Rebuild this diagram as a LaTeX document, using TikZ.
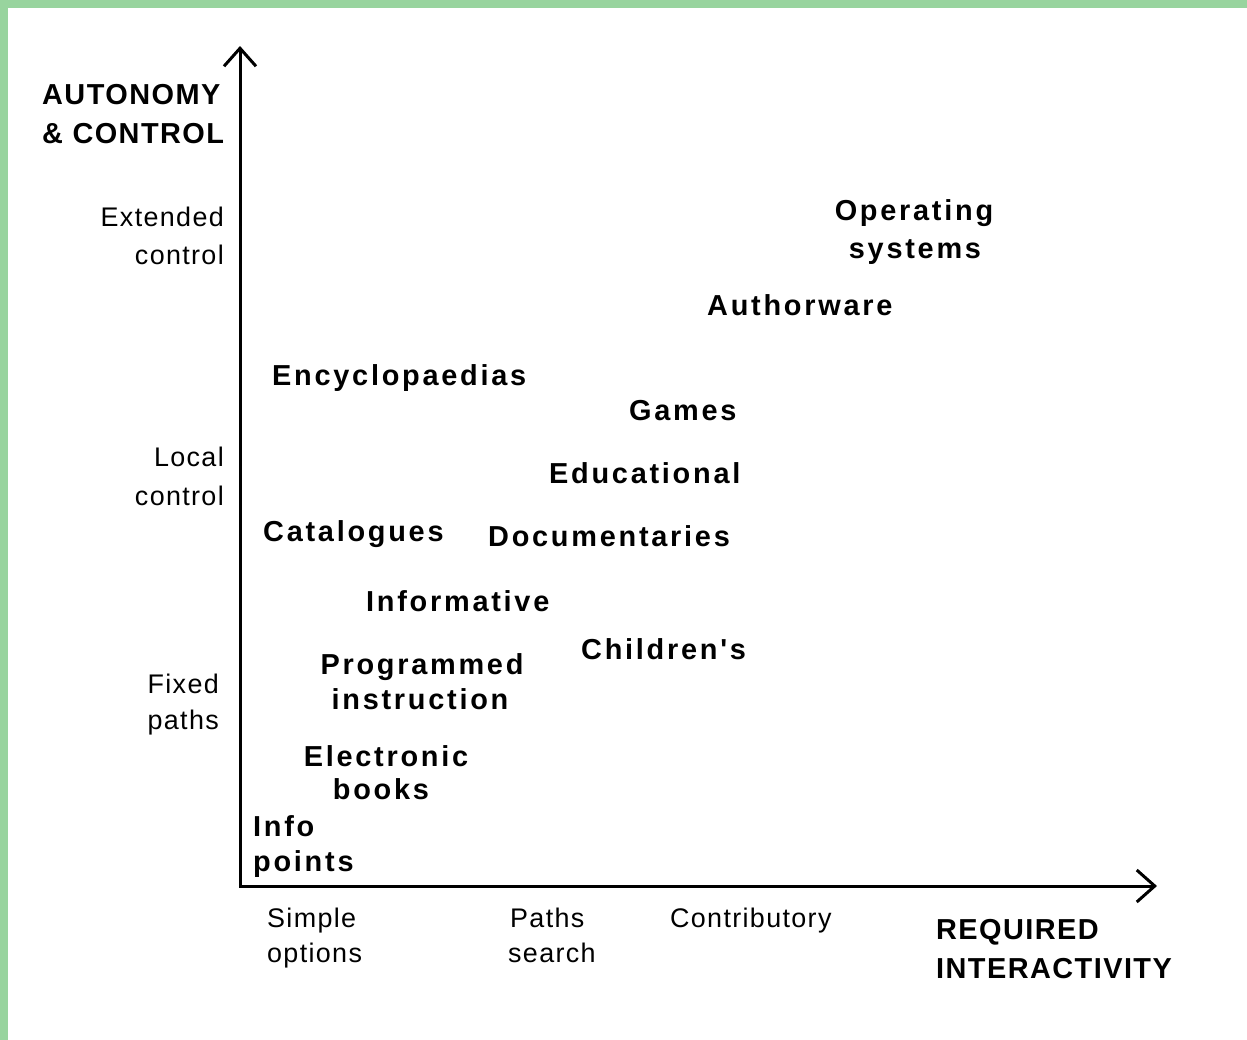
\documentclass[tikz,border=0pt]{standalone}
\usepackage{fontspec}
\usetikzlibrary{arrows.meta}
\newfontfamily\itemfont{Liberation Sans}[LetterSpace=9.5]
\newfontfamily\titlefont{Liberation Sans}[LetterSpace=5]
\newfontfamily\levelfont{Liberation Sans}[LetterSpace=5]
\definecolor{frame}{RGB}{152,212,158}
\tikzset{
  item/.style={inner sep=0pt, anchor=base west, font=\itemfont\bfseries\fontsize{29}{34}\selectfont},
  itemc/.style={item, anchor=base},
  title/.style={inner sep=0pt, anchor=base west, font=\titlefont\bfseries\fontsize{29}{34}\selectfont},
  level/.style={inner sep=0pt, anchor=base east, font=\levelfont\fontsize{27}{32}\selectfont},
  levelx/.style={level, anchor=base west},
  axis/.style={line width=3bp, {Straight Barb[length=18bp,width=32bp,line width=3bp]}-{Straight Barb[length=18bp,width=32bp,line width=3bp]}}
}
\begin{document}
\begin{tikzpicture}[x=1bp,y=-1bp]
\fill[frame] (0,0) rectangle (1247,1040);
\fill[white] (8,8) rectangle (1247,1040);
\useasboundingbox (0,0) rectangle (1247,1040);
% axes
\coordinate (ytop) at (240,46);
\coordinate (O) at (240,886);
\coordinate (xend) at (1157,886);
\draw[axis] (ytop) -- (O) -- (xend);
% axis titles
\node[title] (t1) at (42,104) {AUTONOMY};
\node[title] (t2) at (42,143) {\& CONTROL};
\node[title] (t3) at (936,939) {REQUIRED};
\node[title] (t4) at (936,978) {INTERACTIVITY};
% vertical levels
\node[level] (l1a) at (224,226) {Extended};
\node[level] (l1b) at (224,264) {control};
\node[level] (l2a) at (224,466) {Local};
\node[level] (l2b) at (224,505) {control};
\node[level] (l3a) at (219,693) {Fixed};
\node[level] (l3b) at (219,729) {paths};
% horizontal levels
\node[levelx] (h1a) at (267,927) {Simple};
\node[levelx] (h1b) at (267,962) {options};
\node[levelx] (h2a) at (510,927) {Paths};
\node[levelx] (h2b) at (508,962) {search};
\node[levelx] (h3a) at (670,927) {Contributory};
% items
\node[itemc] (os1) at (914,220) {Operating};
\node[itemc] (os2) at (915,258) {systems};
\node[item] (auth) at (707,315) {Authorware};
\node[item] (ency) at (272,385) {Encyclopaedias};
\node[item] (games) at (629,420) {Games};
\node[item] (edu) at (549,483) {Educational};
\node[item] (cat) at (263,541) {Catalogues};
\node[item] (doc) at (488,546) {Documentaries};
\node[item] (info) at (366,611) {Informative};
\node[item] (child) at (581,659) {Children's};
\node[itemc] (pi1) at (422,674) {Programmed};
\node[itemc] (pi2) at (420,709) {instruction};
\node[itemc] (eb1) at (386,766) {Electronic};
\node[itemc] (eb2) at (381,799) {books};
\node[item] (ip1) at (253,836) {Info};
\node[item] (ip2) at (253,871) {points};
\end{tikzpicture}
\end{document}
